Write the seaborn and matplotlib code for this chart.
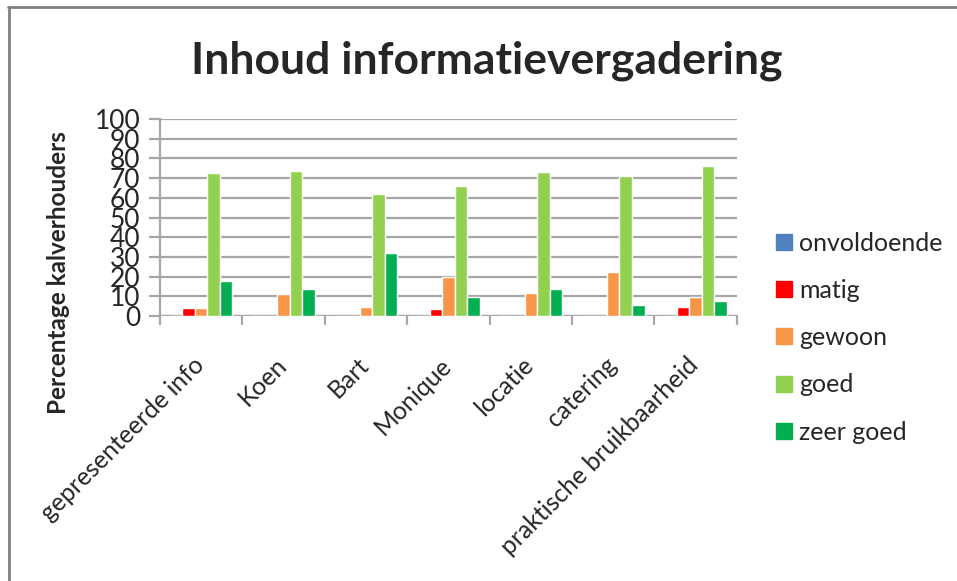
import pandas as pd
import matplotlib.pyplot as plt
import matplotlib.transforms as mtransforms
import seaborn as sns
from matplotlib.lines import Line2D

# Data
onderdelen = ["gepresenteerde info", "Koen", "Bart", "Monique", "locatie",
              "catering", "praktische bruikbaarheid"]
onvoldoende = [0, 0, 0, 0, 0, 0, 0]
matig = [4.2, 0, 0, 3.6, 0, 0, 4.7]
gewoon = [4.0, 11.4, 4.7, 19.8, 11.9, 22.4, 9.7]
goed = [72.7, 73.9, 62.0, 65.9, 73.2, 71.2, 76.4]
zeer_goed = [17.8, 13.9, 32.2, 9.7, 13.9, 5.6, 7.5]

series = {"onvoldoende": onvoldoende, "matig": matig, "gewoon": gewoon,
          "goed": goed, "zeer goed": zeer_goed}
kleuren = ["#4F81BD", "#FF0000", "#F79646", "#92D050", "#00B050"]

rows = []
for naam, waarden in series.items():
    for ond, w in zip(onderdelen, waarden):
        rows.append({"onderdeel": ond, "oordeel": naam, "pct": w})
df = pd.DataFrame(rows)

sns.set_style("white")
plt.rcParams["font.family"] = ["Lato", "DejaVu Sans"]

fig = plt.figure(figsize=(9.57, 5.81), dpi=100)
ax = fig.add_axes([0.167, 0.456, 0.603, 0.339])

sns.barplot(data=df, x="onderdeel", y="pct", hue="oordeel",
            palette=kleuren, width=0.76, gap=0, ax=ax, saturation=1)

ax.set_ylim(0, 100)
ax.set_xlim(-0.5, len(onderdelen) - 0.5)
ax.set_yticks(range(0, 101, 10))
ax.yaxis.grid(True, color="#A6A6A6", linewidth=1.6)
ax.set_axisbelow(True)
for s in ["top", "right", "bottom"]:
    ax.spines[s].set_visible(False)
ax.spines["left"].set_color("#A6A6A6")
ax.spines["left"].set_linewidth(1.6)
ax.axhline(0, color="#A6A6A6", linewidth=1.6, zorder=0)

ax.tick_params(axis="y", length=8, color="#A6A6A6", width=1.6,
               labelsize=19, pad=6, left=True)
ax.tick_params(axis="x", length=0, labelsize=17.8, pad=8)
ax.set_xticks(range(len(onderdelen)))
ax.set_xticklabels(onderdelen, rotation=45, ha="right", rotation_mode="anchor")
shift = mtransforms.ScaledTranslation(-9 / 100, -26 / 100, fig.dpi_scale_trans)
for lab in ax.get_xticklabels():
    lab.set_transform(lab.get_transform() + shift)
# tick marks between categories
for i in range(len(onderdelen) + 1):
    ax.plot([i - 0.5, i - 0.5], [0, -4], color="#A6A6A6", linewidth=1.6,
            clip_on=False)

ax.set_xlabel("")
ax.set_ylabel("Percentage kalverhouders", fontsize=17.5, fontweight="bold")
ax.yaxis.set_label_coords(-0.156, 0.22)

ax.legend_.remove()
handles = [Line2D([0], [0], marker="s", linestyle="", markersize=11,
                  markerfacecolor=c, markeredgecolor=c) for c in kleuren]
fig.legend(handles, list(series.keys()), loc="upper left",
           bbox_to_anchor=(0.783, 0.64), frameon=False, fontsize=18,
           labelspacing=0.97, handletextpad=0.1, handlelength=1.0)

fig.suptitle("Inhoud informatievergadering", x=0.509, y=0.93,
             fontsize=32, fontweight="bold")

# chart border (top and left)
fig.add_artist(Line2D([0.008, 1.0], [0.988, 0.988], color="#808080", linewidth=2))
fig.add_artist(Line2D([0.009, 0.009], [0.0, 0.988], color="#808080", linewidth=2))

fig.savefig("out.png", dpi=100)
